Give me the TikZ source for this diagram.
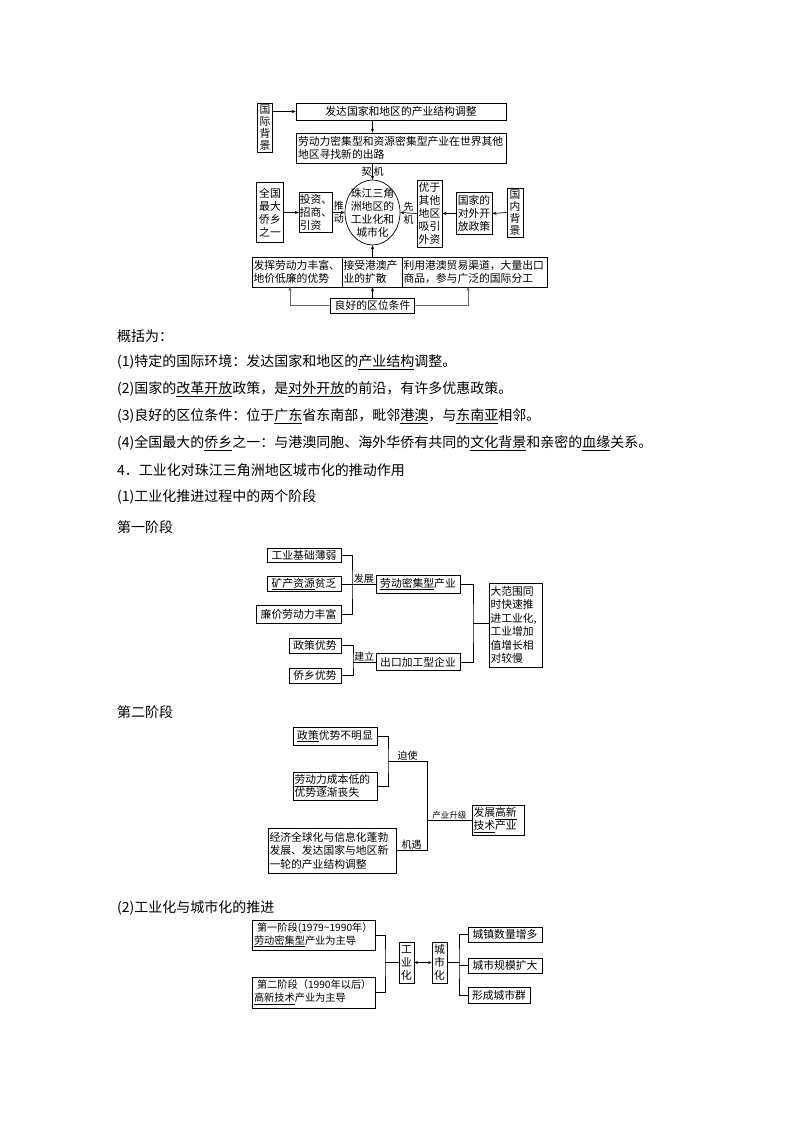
\documentclass[tikz,border=0pt]{standalone}
\usepackage{fontspec}
\setmainfont{Noto Sans CJK SC}
\usetikzlibrary{arrows.meta,shapes.geometric}
\begin{document}
\begin{tikzpicture}[x=1pt,y=-1pt,
  bx/.style={draw, line width=0.7pt, inner sep=1.5pt, font=\fontsize{10.8}{13}\selectfont, align=left},
  vbx/.style={bx, align=center, font=\fontsize{10.8}{12}\selectfont},
  arr/.style={line width=0.7pt, -{Stealth[length=4pt,width=3.2pt]}},
  ln/.style={line width=0.7pt},
  lbl/.style={inner sep=0.8pt, font=\fontsize{10}{13}\selectfont, align=center},
  body/.style={anchor=west, inner sep=0pt, font=\fontsize{14}{16}\selectfont}
]
\useasboundingbox[fill=white] (0,0) rectangle (794,1123);

% ---------- Diagram 1 ----------
\node[vbx, minimum width=15, minimum height=49] (gjbj) at (265,127.5) {国\\际\\背\\景};
\node[bx, align=center, minimum width=210, minimum height=17] (fd) at (401,111.5) {发达国家和地区的产业结构调整};
\node[bx, inner sep=2pt, minimum width=210, minimum height=30, text width=206] (ld) at (401,148) {劳动力密集型和资源密集型产业在世界其他\\地区寻找新的出路};
\node[ellipse, draw, line width=0.7pt, minimum width=55, minimum height=65, inner sep=0] (circ) at (372.5,212.5) {};
\node[font=\fontsize{10.8}{13}\selectfont, align=center, inner sep=0] (circt) at (circ.center) {珠江三角\\洲地区的\\工业化和\\城市化};
\node[bx, align=center, minimum width=27, minimum height=60] (qg) at (270,212.5) {全国\\最大\\侨乡\\之一};
\node[bx, inner xsep=0.5pt, minimum width=31, minimum height=40] (tz) at (316,212.5) {投资、\\招商、\\引资};
\node[bx, align=center, minimum width=25, minimum height=67] (yy) at (429.5,213.5) {优于\\其他\\地区\\吸引\\外资};
\node[bx, align=center, minimum width=36, minimum height=42] (gjd) at (474,213.5) {国家的\\对外开\\放政策};
\node[vbx, minimum width=16, minimum height=49] (gnbj) at (515,212.5) {国\\内\\背\\景};

\node[bx, inner xsep=1.5pt, minimum width=90, minimum height=30, text width=87] (b1) at (297,272) {发挥劳动力丰富、\\地价低廉的优势};
\node[bx, inner xsep=1.5pt, minimum width=60, minimum height=30, text width=57] (b2) at (372,272) {接受港澳产\\业的扩散};
\node[bx, inner xsep=1.5pt, minimum width=145, minimum height=30, text width=142] (b3) at (474.5,272) {利用港澳贸易渠道，大量出口\\商品，参与广泛的国际分工};
\node[bx, align=center, minimum width=84, minimum height=15] (lh) at (372.5,305.5) {良好的区位条件};
\coordinate (b1a) at (290,287);
\coordinate (b3a) at (468,287);

\draw[arr] (gjbj.east |- fd.west) -- (fd.west);
\draw[arr] (circ.north |- fd.south) -- (circ.north |- ld.north);
\draw[arr] (circ.north |- ld.south) -- (circ.north) node[midway, lbl] {契\hspace{2pt}机};
\draw[arr] (qg.east) -- (tz.west);
\draw[arr] (tz.east) -- (circ.west) node[midway, lbl] {推\\动};
\draw[arr] (yy.west) -- (circ.east) node[midway, lbl] {先\\机};
\draw[arr] (gjd.west) -- (yy.east);
\draw[arr] (gnbj.west) -- (gjd.east);
\draw[arr] (circ.south |- b2.north) -- (circ.south);
\draw[arr, black!60] (lh.west) -| (b1a);
\draw[arr, black!60] (lh.east) -| (b3a);
\draw[arr] (lh.north) -- (lh.north |- b2.south);

% ---------- Text ----------
\node[body] (t0) at (117,336) {概括为：};
\node[body] (t1) at (117,362) {(1)特定的国际环境：发达国家和地区的\underline{产业结构}调整。};
\node[body] (t2) at (117,389) {(2)国家的\underline{改革开放}政策，是\underline{对外开放}的前沿，有许多优惠政策。};
\node[body] (t3) at (117,416) {(3)良好的区位条件：位于\underline{广东}省东南部，毗邻\underline{港澳}，与\underline{东南亚}相邻。};
\node[body] (t4) at (117,443) {(4)全国最大的\underline{侨乡}之一：与港澳同胞、海外华侨有共同的\underline{文化背景}和亲密的\underline{血缘}关系。};
\node[body] (t5) at (117,470) {4．工业化对珠江三角洲地区城市化的推动作用};
\node[body] (t6) at (117,497) {(1)工业化推进过程中的两个阶段};
\node[body] (t7) at (117,527) {第一阶段};
\node[body] (t8) at (117,712) {第二阶段};
\node[body] (t9) at (117,908) {(2)工业化与城市化的推进};

% ---------- Diagram 2 ----------
\node[bx, align=center, minimum width=74, minimum height=14] (a1) at (304,555) {工业基础薄弱};
\node[bx, align=center, minimum width=74, minimum height=15] (a2) at (304,584) {\underline{矿产资源}贫乏};
\node[bx, align=center, minimum width=85, minimum height=18] (a3) at (298.5,614) {廉价劳动力丰富};
\node[bx, align=center, minimum width=84, minimum height=18] (ldmj) at (418,584) {\underline{劳动密集型}产业};
\node[bx, align=center, minimum width=52, minimum height=15] (zc) at (315,645.5) {政策优势};
\node[bx, align=center, minimum width=52, minimum height=15] (qx) at (315,675.5) {侨乡优势};
\node[bx, align=center, minimum width=84, minimum height=17] (ck) at (418,662) {出口加工型企业};
\node[bx, font=\fontsize{10.8}{13.5}\selectfont, minimum width=53, minimum height=84, text width=50] (dfw) at (515.5,625) {大范围同\\时快速推\\进工业化,\\工业增加\\值增长相\\对较慢};
\coordinate (j1) at (352,584);
\coordinate (j2) at (353,662);
\coordinate (j3) at (473,623);
\draw[ln] (a1.east) -| (j1) |- (a3.east);
\draw[ln] (a2.east) -- (j1);
\draw[ln] (j1) -- (ldmj.west) node[midway, above, lbl] {发展};
\draw[ln] (zc.east) -| (j2) |- (qx.east);
\draw[ln] (j2) -- (ck.west) node[midway, above, lbl] {建立};
\draw[ln] (ldmj.east) -| (j3) |- (ck.east);
\draw[ln] (j3) -- (j3 -| dfw.west);

% ---------- Diagram 3 ----------
\node[bx, align=center, minimum width=84, minimum height=18] (pc) at (335,736) {\underline{政策}优势不明显};
\node[bx, minimum width=84, minimum height=28, text width=81] (ldl) at (335,786) {\underline{劳动力}成本低的\\优势逐渐丧失};
\node[bx, font=\fontsize{10.8}{13.5}\selectfont, minimum width=128, minimum height=45, text width=125] (jj) at (332,850.5) {经济全球化与信息化蓬勃\\发展、发达国家与地区新\\一轮的产业结构调整};
\node[bx, minimum width=52, minimum height=30, text width=49] (fz) at (498,820) {发展\underline{高新}\\\underline{技术}产业};
\coordinate (k1) at (388,761);
\coordinate (k2) at (427,761);
\coordinate (k3) at (427,820);
\draw[ln] (pc.east) -| (k1) |- (ldl.east);
\draw[ln] (k1) -- (k2) node[midway, above, lbl] {迫使};
\draw[ln] (jj.east) -| (k2);
\path (jj.east) -- (jj.east -| k2) node[midway, above, lbl] {机遇};
\draw[ln] (k3) -- (fz.west) node[midway, above, lbl, font=\fontsize{8.5}{10}\selectfont] {产业升级};

% ---------- Diagram 4 ----------
\node[bx, font=\fontsize{10.2}{13}\selectfont, minimum width=123, minimum height=30, text width=119] (s1) at (313.5,935) {\hspace{3pt}第一阶段(1979\textasciitilde1990年）\\\underline{劳动密集型}产业为主导};
\node[bx, font=\fontsize{10.2}{13}\selectfont, minimum width=123, minimum height=31, text width=119] (s2) at (313.5,992.5) {\hspace{3pt}第二阶段（1990年以后）\\\underline{高新技术}产业为主导};
\node[vbx, font=\fontsize{10.8}{13}\selectfont, minimum width=15, minimum height=41] (gyh) at (406.5,962.5) {工\\业\\化};
\node[vbx, font=\fontsize{10.8}{13}\selectfont, minimum width=15, minimum height=41] (csh) at (439.5,962.5) {城\\市\\化};
\node[bx, align=center, minimum width=74, minimum height=15] (r1) at (505,934.5) {城镇数量增多};
\node[bx, align=center, minimum width=74, minimum height=15] (r2) at (505,965.5) {城市规模扩大};
\node[bx, align=center, minimum width=62, minimum height=16] (r3) at (499,995) {形成城市群};
\coordinate (m1) at (385,962.5);
\coordinate (m2) at (459,962.5);
\draw[ln] (s1.east) -| (m1) |- (s2.east);
\draw[ln] (m1) -- (gyh.west);
\draw[ln, {Stealth[length=3.5pt,width=3pt]}-{Stealth[length=3.5pt,width=3pt]}] (gyh.east) -- (csh.west);
\draw[ln] (csh.east) -- (m2);
\draw[ln] (r1.west) -| (m2) |- (r3.west);
\draw[ln] (r2.west) -- (r2.west -| m2);
\end{tikzpicture}
\end{document}
